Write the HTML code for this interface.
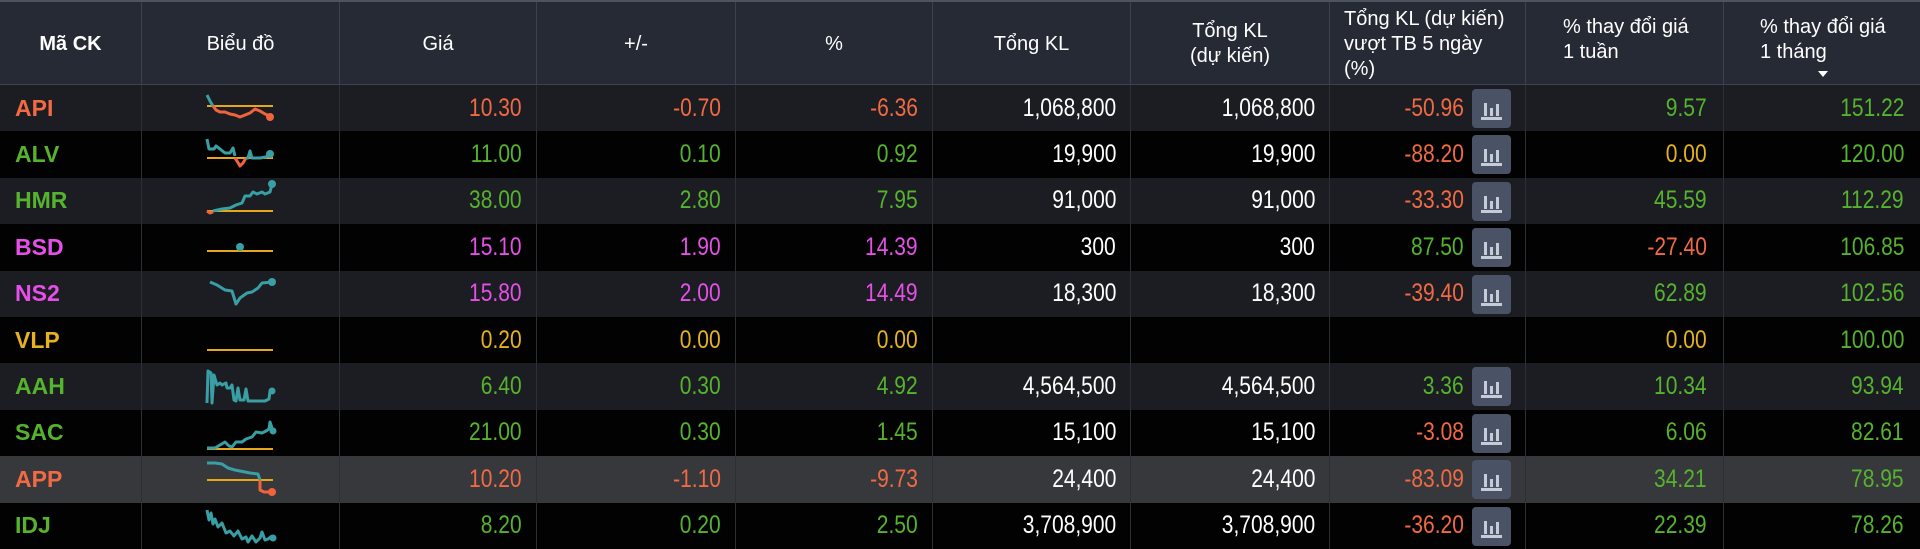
<!DOCTYPE html>
<html><head><meta charset="utf-8"><style>
*{margin:0;padding:0;box-sizing:border-box}
body{width:1920px;height:549px;background:#020203;overflow:hidden;font-family:"Liberation Sans",sans-serif;position:relative}
.hdr{position:absolute;left:0;top:0;width:1920px;height:85px;background:#252a35;border-top:2px solid #4d525c;border-bottom:1px solid #3c4250}
.hc{position:absolute;top:0;height:84px;border-left:1px solid #3c4250;color:#fff;font-size:20px;display:flex;align-items:center;justify-content:center;text-align:center;line-height:25px}
.row{position:absolute;left:0;width:1920px;height:46.4px}
.c{position:absolute;top:0;height:100%;border-left:1px solid #2c2f36;display:flex;align-items:center;justify-content:flex-end;font-family:"Liberation Sans",sans-serif;font-size:25px;padding-right:14px}
.c span{display:inline-block;transform:scaleX(0.84);transform-origin:right center;white-space:nowrap}
.sym{font-weight:bold;font-size:23px;justify-content:flex-start;padding-left:15px;border-left:none}
.g{color:#56b32e}.r{color:#f26a43}.y{color:#e7b21f}.m{color:#e650e8}.w{color:#fff}
.btn{position:absolute;left:1472px;top:4px;width:39px;height:39px;background:#4a5366;border-radius:4px}
.btn i{position:absolute;background:#c5ccd8;width:3px;bottom:12px}
.btn b{position:absolute;left:9px;width:21px;height:3px;bottom:8px;background:#c5ccd8}
svg.sp{position:absolute;left:200px;top:0}
</style></head><body>
<div class="hdr">
<div class="hc" style="left:0;width:141px;border-left:none;font-weight:bold">Mã CK</div>
<div class="hc" style="left:141px;width:198px">Biểu đồ</div>
<div class="hc" style="left:339px;width:197px">Giá</div>
<div class="hc" style="left:536px;width:199px">+/-</div>
<div class="hc" style="left:735px;width:197px">%</div>
<div class="hc" style="left:932px;width:198px">Tổng KL</div>
<div class="hc" style="left:1130px;width:199px">Tổng KL<br>(dự kiến)</div>
<div class="hc" style="left:1329px;width:196px;justify-content:flex-start;text-align:left;padding-left:14px">Tổng KL (dự kiến)<br>vượt TB 5 ngày<br>(%)</div>
<div class="hc" style="left:1525px;width:198px;justify-content:flex-start;text-align:left;padding-left:37px;padding-bottom:8px">% thay đổi giá<br>1 tuần</div>
<div class="hc" style="left:1723px;width:197px;justify-content:flex-start;text-align:left;padding-left:36px;padding-bottom:8px">% thay đổi giá<br>1 tháng</div>
<div style="position:absolute;left:1818px;top:69px;width:0;height:0;border-left:5px solid transparent;border-right:5px solid transparent;border-top:6px solid #fff"></div>
</div>

<div id="rows"></div>
<script>
const O="#f0643c",T="#3a9ea5",Y="#e6a817";
const rows=[
["API","r",["10.30","r"],["-0.70","r"],["-6.36","r"],"1,068,800","1,068,800",["-50.96","r"],["9.57","g"],["151.22","g"],"#1b1d22",
`<line x1="7" y1="21" x2="73" y2="21" stroke="${Y}" stroke-width="2"/><polyline points="7,10 10,16 13,21" stroke="${T}"/><polyline points="13,21 16,25 20,27 25,27 30,29 35,30 40,32 45,30 50,28 55,24 60,26 65,29 70,31" stroke="${O}"/><circle cx="70" cy="32" r="4" fill="${O}"/>`],
["ALV","g",["11.00","g"],["0.10","g"],["0.92","g"],"19,900","19,900",["-88.20","r"],["0.00","y"],["120.00","g"],"#020203",
`<line x1="7" y1="27" x2="73" y2="27" stroke="${Y}" stroke-width="2"/><polyline points="7,8 9,18 14,18 16,15 20,18 25,22 30,22 33,17 35,25" stroke="${T}"/><polyline points="35,27 37,30 40,35 43,32 46,27" stroke="${O}"/><polyline points="46,27 48,27 50,20 52,27 60,27 66,26 70,23" stroke="${T}"/><circle cx="70" cy="23" r="4" fill="${T}"/>`],
["HMR","g",["38.00","g"],["2.80","g"],["7.95","g"],"91,000","91,000",["-33.30","r"],["45.59","g"],["112.29","g"],"#1b1d22",
`<line x1="7" y1="33" x2="73" y2="33" stroke="${Y}" stroke-width="2"/><polyline points="7,33 10,35 13,34" stroke="${O}"/><polyline points="13,33 22,31 30,30 36,27 42,25 45,18 50,18 53,14 57,16 62,14 65,16 70,14 72,6" stroke="${T}"/><circle cx="72" cy="6" r="4" fill="${T}"/>`],
["BSD","m",["15.10","m"],["1.90","m"],["14.39","m"],"300","300",["87.50","g"],["-27.40","r"],["106.85","g"],"#020203",
`<line x1="7" y1="27" x2="73" y2="27" stroke="${Y}" stroke-width="2"/><circle cx="40" cy="23" r="4" fill="${T}"/>`],
["NS2","m",["15.80","m"],["2.00","m"],["14.49","m"],"18,300","18,300",["-39.40","r"],["62.89","g"],["102.56","g"],"#1b1d22",
`<polyline points="10,11 17,14 25,19 32,20 36,33 40,27 47,22 52,21 58,17 62,12 72,11" stroke="${T}"/><circle cx="72" cy="11" r="4" fill="${T}"/>`],
["VLP","y",["0.20","y"],["0.00","y"],["0.00","y"],"","",null,["0.00","y"],["100.00","g"],"#020203",
`<line x1="7" y1="33" x2="73" y2="33" stroke="${Y}" stroke-width="2"/>`],
["AAH","g",["6.40","g"],["0.30","g"],["4.92","g"],"4,564,500","4,564,500",["3.36","g"],["10.34","g"],["93.94","g"],"#1b1d22",
`<polyline points="7,40 8,8 11,10 12,40 14,12 17,22 20,20 22,22 26,20 27,25 30,25 32,22 34,37 36,38 38,25 40,37 44,37 46,26 48,38 55,38 60,38 65,38 69,36 70,28" stroke="${T}"/><circle cx="72" cy="28" r="3.5" fill="${T}"/>`],
["SAC","g",["21.00","g"],["0.30","g"],["1.45","g"],"15,100","15,100",["-3.08","r"],["6.06","g"],["82.61","g"],"#020203",
`<line x1="7" y1="39" x2="73" y2="39" stroke="${Y}" stroke-width="2"/><polyline points="7,38 15,38 20,35 25,32 29,36 32,37 36,32 42,32 46,29 52,27 56,22 62,23 66,21 69,19 70,12 72,18" stroke="${T}"/><circle cx="73" cy="21" r="3.5" fill="${T}"/>`],
["APP","r",["10.20","r"],["-1.10","r"],["-9.73","r"],"24,400","24,400",["-83.09","r"],["34.21","g"],["78.95","g"],"#36383c",
`<line x1="7" y1="24" x2="73" y2="24" stroke="${Y}" stroke-width="2"/><polyline points="7,7 15,7 22,8 28,12 35,14 45,16 50,17 58,18 60,24" stroke="${T}"/><polyline points="60,24 60,34 64,36 70,36" stroke="${O}"/><circle cx="72" cy="36" r="4" fill="${O}"/>`],
["IDJ","g",["8.20","g"],["0.20","g"],["2.50","g"],"3,708,900","3,708,900",["-36.20","r"],["22.39","g"],["78.26","g"],"#020203",
`<polyline points="7,7 9,17 11,10 13,21 15,16 18,24 22,20 26,30 30,28 34,33 38,28 42,36 46,34 48,39 52,33 56,39 60,35 62,29 65,37 68,36 72,33" stroke="${T}"/><circle cx="73" cy="35" r="3.5" fill="${T}"/>`]
];
const L=[0,141,339,536,735,932,1130,1329,1525,1723,1920];
let h="";
rows.forEach((d,i)=>{
 const top=85+i*46.4;
 h+=`<div class="row" style="top:${top}px;background:${d[10]}">`;
 h+=`<div class="c sym ${d[1]}" style="left:0;width:141px">${d[0]}</div>`;
 h+=`<div class="c" style="left:141px;width:198px"></div>`;
 h+=`<svg class="sp" width="80" height="46" fill="none" stroke-width="3" stroke-linejoin="round">${d[11]}</svg>`;
 const vals=[d[2],d[3],d[4],[d[5],"w"],[d[6],"w"],d[7],d[8],d[9]];
 vals.forEach((v,k)=>{
  const l=L[k+2],w=L[k+3]-L[k+2];
  let pr=k==5?61:(k>=6?16:14);
  h+=`<div class="c ${v?v[1]:''}" style="left:${l}px;width:${w}px;padding-right:${pr}px"><span>${v?v[0]:''}</span></div>`;
 });
 if(d[7]) h+=`<div class="btn"><i style="left:12px;height:13px"></i><i style="left:18px;height:8px"></i><i style="left:24px;height:12px"></i><b></b></div>`;
 h+=`</div>`;
});
document.getElementById("rows").innerHTML=h;
</script>
</body></html>
